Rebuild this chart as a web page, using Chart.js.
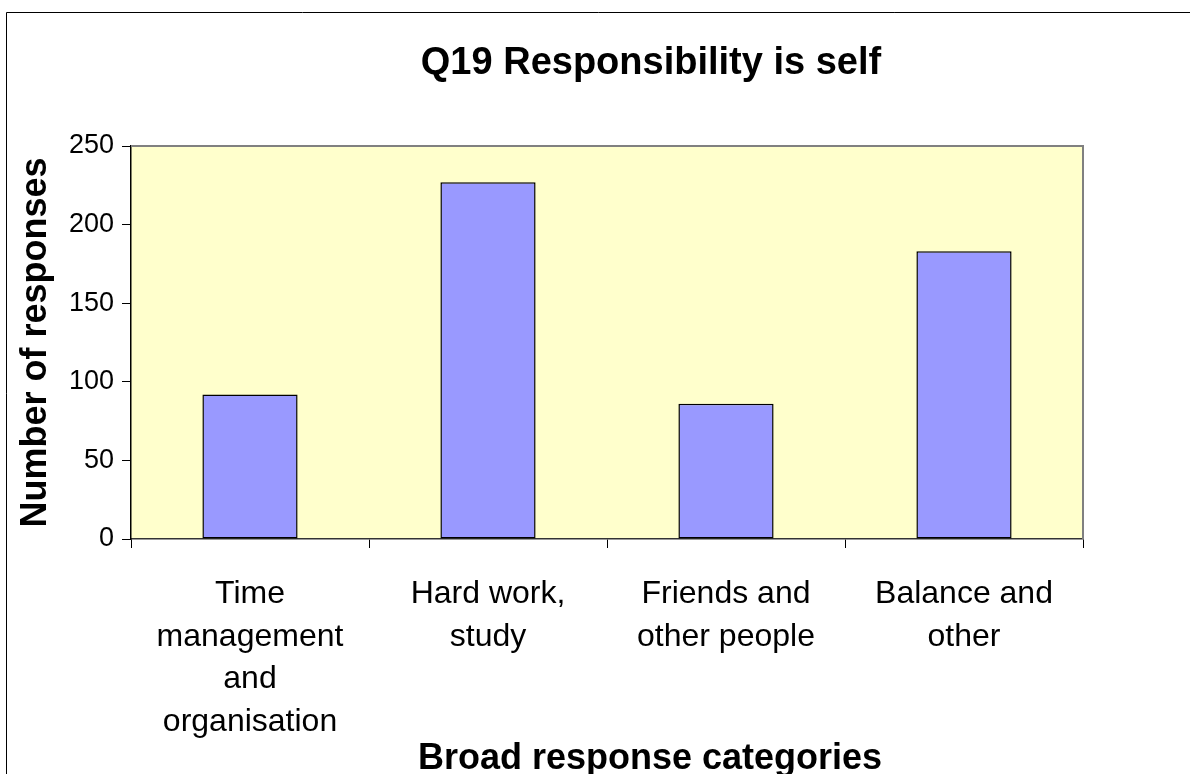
<!DOCTYPE html>
<html>
<head>
<meta charset="utf-8">
<script src="https://cdn.jsdelivr.net/npm/chart.js@4.4.0/dist/chart.umd.min.js"></script>
<style>
  html, body { margin: 0; padding: 0; background: #fff; }
  #wrap { width: 1190px; height: 774px; }
</style>
</head>
<body>
<div id="wrap"><canvas id="chart"></canvas></div>
<script>
// Chart data
const categories = [
  ['Time', 'management', 'and', 'organisation'],
  ['Hard work,', 'study'],
  ['Friends and', 'other people'],
  ['Balance and', 'other']
];
const responses = [92, 227, 86, 183];
const yTicks = [0, 50, 100, 150, 200, 250];

const chartTitle = 'Q19 Responsibility is self';
const xTitle = 'Broad response categories';
const yTitle = 'Number of responses';

const FONT = '"Liberation Sans", Arial, sans-serif';

// Frame, plot background, plot border and free-standing titles
const excelLook = {
  id: 'excelLook',
  beforeDraw(chart) {
    const { ctx, chartArea: a } = chart;
    ctx.save();
    ctx.fillStyle = '#FFFFCC';
    ctx.fillRect(a.left, a.top, a.right - a.left, a.bottom - a.top);
    ctx.restore();
  },
  afterDraw(chart) {
    const { ctx, chartArea: a } = chart;
    ctx.save();
    // outer chart frame (cut off at right/bottom)
    ctx.strokeStyle = '#000';
    ctx.lineWidth = 1;
    ctx.beginPath();
    ctx.moveTo(6.5, 774);
    ctx.lineTo(6.5, 12.5);
    ctx.lineTo(1190, 12.5);
    ctx.stroke();
    // grey top/right border of plot area
    ctx.strokeStyle = '#808080';
    ctx.lineWidth = 2;
    ctx.beginPath();
    ctx.moveTo(a.left, a.top);
    ctx.lineTo(a.right, a.top);
    ctx.lineTo(a.right, a.bottom);
    ctx.stroke();
    // titles
    ctx.fillStyle = '#000';
    ctx.textAlign = 'center';
    ctx.textBaseline = 'alphabetic';
    ctx.font = 'bold 38px ' + FONT;
    ctx.fillText(chartTitle, 651, 74);
    ctx.font = 'bold 36px ' + FONT;
    ctx.fillText(xTitle, 650, 769);
    ctx.restore();
  }
};

const ctx = document.getElementById('chart').getContext('2d');
new Chart(ctx, {
  type: 'bar',
  data: {
    labels: categories,
    datasets: [{
      data: responses,
      backgroundColor: '#9999FF',
      borderColor: '#000',
      borderWidth: 1.5,
      borderSkipped: false,
      barPercentage: 1,
      categoryPercentage: 0.4
    }]
  },
  options: {
    responsive: true,
    maintainAspectRatio: false,
    animation: false,
    layout: { padding: { top: 146, left: 14, right: 107, bottom: 0 } },
    plugins: {
      legend: { display: false },
      tooltip: { enabled: false }
    },
    scales: {
      x: {
        afterFit(scale) { scale.height = 235; },
        grid: {
          drawOnChartArea: false,
          tickLength: 9,
          color: '#000',
          offset: true
        },
        border: { color: '#333', width: 1.5 },
        ticks: {
          color: '#000',
          padding: 25,
          maxRotation: 0,
          autoSkip: false,
          font: { family: FONT, size: 32, lineHeight: 1.33 }
        }
      },
      y: {
        min: 0,
        max: 250,
        afterFit(scale) { scale.width = 117; },
        afterBuildTicks(scale) { scale.ticks = yTicks.map(v => ({ value: v })); },
        grid: {
          drawOnChartArea: false,
          tickLength: 9,
          color: '#000'
        },
        border: { color: '#000', width: 1.5 },
        ticks: {
          color: '#000',
          padding: 8,
          font: { family: FONT, size: 27 }
        },
        title: {
          display: true,
          text: yTitle,
          color: '#000',
          padding: 0,
          font: { family: FONT, size: 36, weight: 'bold' }
        }
      }
    }
  },
  plugins: [excelLook]
});
</script>
</body>
</html>
